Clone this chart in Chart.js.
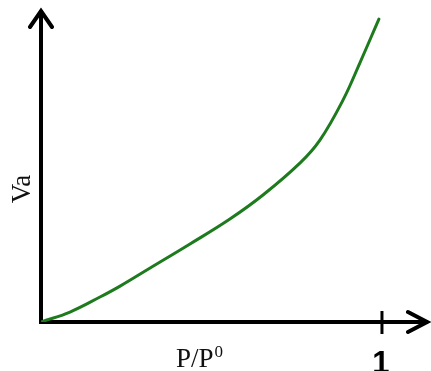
<!DOCTYPE html>
<html>
<head>
<meta charset="utf-8">
<script src="https://cdn.jsdelivr.net/npm/chart.js@4/dist/chart.umd.min.js"></script>
<style>
  html, body { margin:0; padding:0; background:#fff; }
  #wrap { width:431px; height:371px; position:relative; }
</style>
</head>
<body>
<div id="wrap"><canvas id="isotherm"></canvas></div>
<script>
// relative pressure P/P0 and adsorbed volume Va (arbitrary units)
const relPressure = [0, 0.085, 0.173, 0.232, 0.320, 0.437, 0.554, 0.651, 0.760, 0.818, 0.886, 0.935, 0.991];
const adsorbed    = [0, 0.032, 0.080, 0.115, 0.173, 0.250, 0.330, 0.407, 0.510, 0.583, 0.712, 0.830, 0.971];
const xTicks = [1];
const xTitle = 'P/P';
const xTitleSup = '0';
const yTitle = 'Va';

// axes with arrowheads, the single tick at P/P0 = 1 and the titles
const axesPlugin = {
  id: 'arrowAxes',
  beforeDatasetsDraw(chart) {
    const {ctx, scales:{x, y}} = chart;
    const x0 = x.getPixelForValue(0), y0 = y.getPixelForValue(0);
    const xEnd = x.right, yEnd = y.top;
    ctx.save();
    ctx.strokeStyle = '#000';
    ctx.lineWidth = 4;
    ctx.lineCap = 'square';
    ctx.lineJoin = 'miter';
    ctx.beginPath();
    ctx.moveTo(x0, yEnd + 2); ctx.lineTo(x0, y0);
    ctx.lineTo(xEnd - 2, y0);
    ctx.stroke();
    // arrowheads
    ctx.lineCap = 'round';
    ctx.beginPath();
    ctx.moveTo(x0 - 11, yEnd + 17); ctx.lineTo(x0, yEnd + 1); ctx.lineTo(x0 + 11, yEnd + 17);
    ctx.moveTo(xEnd - 20, y0 - 10); ctx.lineTo(xEnd - 1, y0); ctx.lineTo(xEnd - 20, y0 + 10);
    ctx.stroke();
    // tick marks
    ctx.lineWidth = 3;
    ctx.lineCap = 'butt';
    xTicks.forEach(v => {
      const px = x.getPixelForValue(v);
      ctx.beginPath(); ctx.moveTo(px, y0 - 11); ctx.lineTo(px, y0 + 12); ctx.stroke();
      ctx.fillStyle = '#000';
      ctx.font = 'bold 31px "Liberation Sans", Arial, sans-serif';
      ctx.textAlign = 'center';
      ctx.textBaseline = 'alphabetic';
      ctx.fillText(String(v), px - 1, y0 + 51);
    });
    // x title with superscript
    ctx.fillStyle = '#111';
    ctx.font = '27px "Liberation Serif", "Times New Roman", serif';
    ctx.textAlign = 'left';
    const w = ctx.measureText(xTitle).width;
    const tx = 176;
    ctx.fillText(xTitle, tx, y0 + 45);
    ctx.font = '17px "Liberation Serif", "Times New Roman", serif';
    ctx.fillText(xTitleSup, tx + w + 1, y0 + 35);
    // y title, rotated
    ctx.font = '27px "Liberation Serif", "Times New Roman", serif';
    ctx.translate(30, 189);
    ctx.rotate(-Math.PI / 2);
    ctx.textAlign = 'center';
    ctx.fillText(yTitle, 0, 0);
    ctx.restore();
  }
};

new Chart(document.getElementById('isotherm').getContext('2d'), {
  type: 'line',
  data: {
    datasets: [{
      data: relPressure.map((v, i) => ({ x: v, y: adsorbed[i] })),
      borderColor: '#1d7a1d',
      borderWidth: 3,
      pointRadius: 0,
      fill: false,
      tension: 0.4,
      borderCapStyle: 'round'
    }]
  },
  options: {
    responsive: true, maintainAspectRatio: false, animation: false,
    layout: { padding: { left: 41, top: 10, right: 3, bottom: 49 } },
    plugins: { legend: { display: false }, tooltip: { enabled: false } },
    scales: {
      x: { type: 'linear', min: 0, max: 1.135, display: false },
      y: { type: 'linear', min: 0, max: 1, display: false }
    }
  },
  plugins: [axesPlugin]
});
</script>
</body>
</html>
